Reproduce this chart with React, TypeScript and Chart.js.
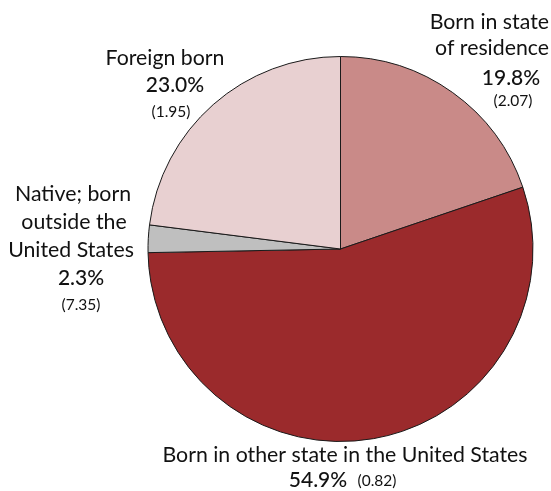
import React, { useEffect, useRef } from "react";
import { Chart, registerables } from "chart.js";

Chart.register(...registerables);

const categories = [
  "Born in state of residence",
  "Born in other state in the United States",
  "Native; born outside the United States",
  "Foreign born",
];
const shares = [19.8, 54.9, 2.3, 23.0];
const moes = ["(2.07)", "(0.82)", "(7.35)", "(1.95)"];
const colors = ["#C98A88", "#9B2A2C", "#BFBFBF", "#E8D0D1"];

const FONT = "Lato, 'Open Sans', sans-serif";

type Line = { t: string; x: number; y: number; size: number; align?: CanvasTextAlign; weight?: string };

const LS = 21.3;
const PS = 21;
const MS = 15.5;

const labelLines: Line[] = [
  { t: "Born in state", x: 549, y: 22, size: LS, align: "right" },
  { t: "of residence", x: 549, y: 48, size: LS, align: "right" },
  { t: shares[0].toFixed(1) + "%", x: 511, y: 78, size: PS, weight: "500" },
  { t: moes[0], x: 513, y: 101, size: MS },

  { t: "Born in other state in the United States", x: 345, y: 455, size: LS },
  { t: shares[1].toFixed(1) + "%", x: 318, y: 480, size: PS, weight: "500" },
  { t: moes[1], x: 377, y: 481, size: MS },

  { t: "Native; born", x: 73, y: 194, size: LS },
  { t: "outside the", x: 74, y: 222, size: LS },
  { t: "United States", x: 71, y: 250, size: LS },
  { t: shares[2].toFixed(1) + "%", x: 81, y: 278, size: PS, weight: "500" },
  { t: moes[2], x: 81, y: 305, size: MS },

  { t: "Foreign born", x: 165, y: 58, size: LS },
  { t: shares[3].toFixed(1) + "%", x: 175, y: 85, size: PS, weight: "500" },
  { t: moes[3], x: 171, y: 112, size: MS },
];

const labelPlugin = {
  id: "pieLabels",
  afterDraw(chart: any) {
    const ctx = chart.ctx as CanvasRenderingContext2D;
    ctx.save();
    ctx.fillStyle = "#111111";
    ctx.textBaseline = "middle";
    for (const l of labelLines) {
      ctx.font = `${l.weight || "400"} ${l.size}px ${FONT}`;
      ctx.textAlign = l.align || "center";
      ctx.fillText(l.t, l.x, l.y);
    }
    ctx.restore();
  },
};

export default function App() {
  const ref = useRef<HTMLCanvasElement>(null);
  useEffect(() => {
    if (!ref.current) return;
    const chart = new Chart(ref.current, {
      type: "pie",
      data: {
        labels: categories,
        datasets: [
          {
            data: shares,
            backgroundColor: colors,
            borderColor: "#1a1a1a",
            borderWidth: 1,
          },
        ],
      },
      options: {
        animation: false,
        responsive: false,
        maintainAspectRatio: false,
        layout: { padding: { top: 56, bottom: 49, left: 147, right: 17 } },
        plugins: {
          legend: { display: false },
          tooltip: { enabled: false },
        },
      },
      plugins: [labelPlugin],
    });
    return () => chart.destroy();
  }, []);
  return (
    <div style={{ position: "fixed", left: 0, top: 0, width: 551, height: 491, background: "#fff" }}>
      <canvas ref={ref} width={551} height={491} style={{ width: 551, height: 491, display: "block" }} />
    </div>
  );
}
